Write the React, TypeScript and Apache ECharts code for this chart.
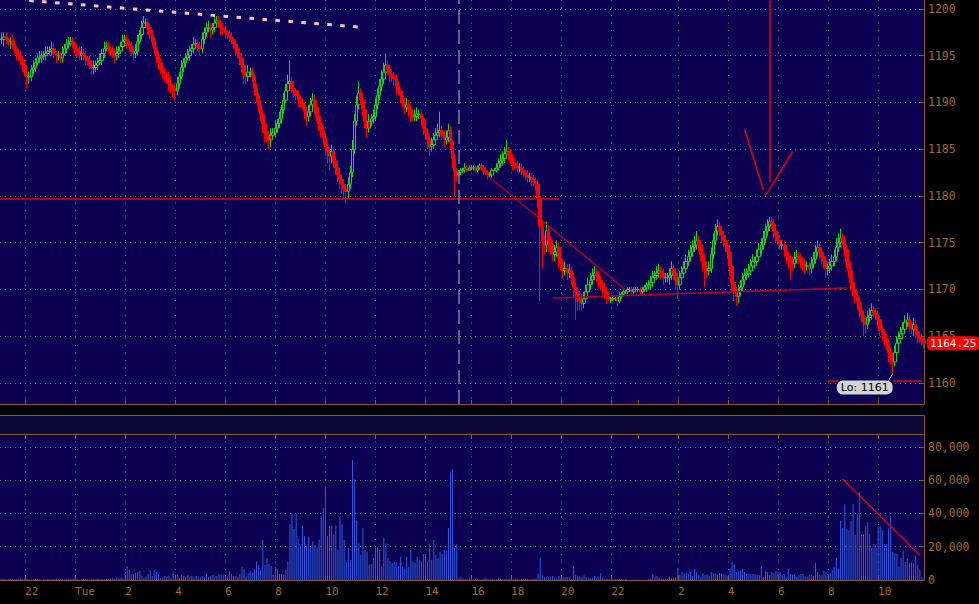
import React, { useEffect, useRef } from 'react';
import * as echarts from 'echarts';

// ---- Price data (5-minute bars), closes ----
const firstOpen = 1196.75;
const tickSize = 0.25;
const closes = [
  /*0*/ 1196.75, 1196.75, 1197.0, 1196.75, 1196.5, 1196.5, 1196.25, 1195.75, 1195.25, 1195.0,
  /*10*/ 1194.5, 1194.0, 1193.25, 1192.75, 1192.75, 1193.5, 1193.75, 1194.25, 1194.75, 1194.75,
  /*20*/ 1195.0, 1195.0, 1195.25, 1195.5, 1195.5, 1195.75, 1195.25, 1195.0, 1195.0, 1194.75,
  /*30*/ 1195.25, 1195.75, 1196.25, 1196.25, 1196.5, 1196.25, 1195.75, 1195.5, 1195.0, 1195.25,
  /*40*/ 1195.0, 1194.75, 1194.5, 1194.0, 1193.75, 1193.75, 1194.0, 1194.25, 1194.5, 1195.25,
  /*50*/ 1195.75, 1196.0, 1195.75, 1195.5, 1195.25, 1195.0, 1195.25, 1195.5, 1196.0, 1196.5,
  /*60*/ 1196.75, 1196.25, 1196.0, 1195.5, 1195.25, 1195.5, 1196.5, 1197.25, 1198.0, 1198.5,
  /*70*/ 1198.5, 1198.0, 1197.25, 1196.5, 1195.75, 1195.0, 1194.25, 1193.5, 1193.25, 1193.0,
  /*80*/ 1192.75, 1192.0, 1191.75, 1191.5, 1191.25, 1192.0, 1192.75, 1193.75, 1194.25, 1194.75,
  /*90*/ 1195.0, 1195.5, 1195.75, 1196.25, 1196.25, 1196.0, 1195.75, 1196.75, 1197.5, 1198.0,
  /*100*/ 1198.0, 1197.75, 1198.0, 1198.5, 1198.75, 1198.5, 1198.0, 1197.75, 1197.5, 1197.25,
  /*110*/ 1197.0, 1196.75, 1196.25, 1195.75, 1195.25, 1194.75, 1194.0, 1193.0, 1192.75, 1193.25,
  /*120*/ 1193.25, 1192.75, 1191.5, 1190.75, 1189.75, 1188.75, 1187.75, 1186.75, 1186.5, 1186.0,
  /*130*/ 1186.5, 1186.75, 1187.25, 1187.75, 1188.25, 1189.25, 1190.25, 1191.25, 1192.0, 1192.25,
  /*140*/ 1191.5, 1191.25, 1190.75, 1190.25, 1190.0, 1189.75, 1189.0, 1188.5, 1189.0, 1189.75,
  /*150*/ 1190.25, 1189.5, 1188.5, 1187.75, 1187.0, 1186.25, 1185.25, 1184.75, 1184.25, 1184.75,
  /*160*/ 1183.75, 1183.0, 1182.25, 1181.75, 1181.25, 1180.75, 1180.5, 1181.25, 1182.5, 1185.0,
  /*170*/ 1188.0, 1189.75, 1191.0, 1190.25, 1189.25, 1188.0, 1187.25, 1188.0, 1188.25, 1188.5,
  /*180*/ 1189.75, 1190.75, 1191.75, 1192.5, 1193.25, 1194.0, 1193.5, 1193.0, 1192.75, 1192.5,
  /*190*/ 1191.75, 1191.25, 1190.75, 1190.0, 1189.5, 1189.75, 1189.25, 1188.75, 1188.5, 1188.5,
  /*200*/ 1188.75, 1188.75, 1188.25, 1187.25, 1186.75, 1186.0, 1185.25, 1185.5, 1186.0, 1186.5,
  /*210*/ 1186.75, 1187.0, 1186.5, 1186.0, 1186.25, 1187.0, 1185.75, 1184.0, 1182.5, 1182.25,
  /*220*/ 1182.5, 1182.75, 1182.75, 1183.0, 1182.75, 1183.0, 1183.0, 1183.0, 1182.75, 1183.0,
  /*230*/ 1183.25, 1183.0, 1182.75, 1182.5, 1182.25, 1182.25, 1182.75, 1182.75, 1183.0, 1183.5,
  /*240*/ 1183.75, 1184.0, 1184.5, 1184.75, 1184.5, 1184.0, 1183.5, 1183.25, 1183.0, 1183.0,
  /*250*/ 1182.75, 1182.5, 1182.25, 1182.0, 1182.0, 1181.75, 1181.5, 1181.25, 1179.75, 1176.75,
  /*260*/ 1175.25, 1174.75, 1176.25, 1175.25, 1174.75, 1173.75, 1174.0, 1174.5, 1173.25, 1172.75,
  /*270*/ 1172.0, 1172.25, 1171.75, 1172.0, 1171.25, 1170.25, 1169.75, 1169.0, 1168.75, 1168.5,
  /*280*/ 1169.0, 1169.75, 1170.5, 1171.0, 1171.5, 1171.75, 1171.5, 1171.0, 1170.5, 1170.25,
  /*290*/ 1169.75, 1169.25, 1169.0, 1169.0, 1169.0, 1169.0, 1168.75, 1169.25, 1169.5, 1169.75,
  /*300*/ 1169.75, 1170.0, 1170.0, 1169.75, 1170.0, 1170.0, 1170.0, 1169.75, 1170.0, 1170.25,
  /*310*/ 1170.5, 1170.5, 1170.75, 1171.25, 1171.5, 1171.75, 1172.0, 1171.75, 1171.25, 1171.25,
  /*320*/ 1171.25, 1171.5, 1172.25, 1171.75, 1171.0, 1170.5, 1171.25, 1171.75, 1172.25, 1173.0,
  /*330*/ 1173.5, 1174.0, 1174.5, 1174.75, 1175.25, 1174.75, 1173.75, 1173.0, 1172.25, 1172.0,
  /*340*/ 1172.25, 1173.75, 1175.25, 1176.25, 1176.75, 1176.25, 1175.75, 1175.25, 1174.75, 1174.0,
  /*350*/ 1172.5, 1170.75, 1169.75, 1169.25, 1169.75, 1170.25, 1171.0, 1171.5, 1171.75, 1172.0,
  /*360*/ 1172.5, 1173.0, 1173.0, 1173.5, 1174.25, 1174.75, 1175.5, 1176.25, 1176.75, 1177.25,
  /*370*/ 1177.0, 1176.25, 1175.75, 1175.25, 1174.75, 1174.75, 1174.25, 1173.5, 1173.25, 1173.0,
  /*380*/ 1172.75, 1173.25, 1173.5, 1173.25, 1173.0, 1172.75, 1172.5, 1172.5, 1172.25, 1172.75,
  /*390*/ 1173.25, 1174.0, 1174.5, 1174.0, 1173.5, 1173.0, 1172.25, 1172.25, 1172.5, 1173.0,
  /*400*/ 1173.5, 1174.5, 1175.0, 1175.5, 1175.25, 1174.25, 1173.0, 1172.0, 1170.75, 1170.0,
  /*410*/ 1169.25, 1168.75, 1167.75, 1167.25, 1166.5, 1166.25, 1167.0, 1167.25, 1167.75, 1167.5,
  /*420*/ 1167.25, 1166.75, 1165.75, 1165.25, 1164.75, 1164.25, 1163.25, 1162.75, 1162.25, 1163.25,
  /*430*/ 1164.25, 1164.75, 1165.25, 1165.75, 1166.5, 1166.75, 1166.0, 1165.75, 1166.25, 1165.5,
  /*440*/ 1165.0, 1164.75, 1164.5, 1164.25,
];

// wick lengths beyond the candle body, in ticks of 0.25
const upperWickTicks = [
  /*0*/ 2, 3, 2, 2, 1, 2, 3, 2, 1, 2,
  /*10*/ 2, 1, 2, 3, 2, 2, 3, 2, 2, 3,
  /*20*/ 2, 2, 3, 2, 2, 3, 2, 1, 2, 2,
  /*30*/ 3, 2, 2, 3, 2, 2, 1, 2, 2, 3,
  /*40*/ 2, 2, 1, 2, 2, 3, 2, 2, 3, 2,
  /*50*/ 3, 2, 2, 1, 2, 2, 3, 2, 2, 3,
  /*60*/ 2, 2, 1, 2, 2, 3, 3, 2, 3, 3,
  /*70*/ 2, 2, 1, 2, 2, 1, 2, 2, 3, 2,
  /*80*/ 1, 2, 2, 1, 2, 3, 2, 3, 2, 2,
  /*90*/ 3, 2, 2, 3, 2, 2, 2, 3, 2, 2,
  /*100*/ 3, 2, 2, 3, 2, 2, 1, 2, 2, 1,
  /*110*/ 2, 2, 1, 2, 2, 1, 2, 2, 3, 3,
  /*120*/ 2, 2, 1, 2, 1, 2, 2, 2, 3, 2,
  /*130*/ 3, 2, 3, 2, 3, 2, 3, 3, 4, 9,
  /*140*/ 2, 2, 1, 2, 2, 2, 1, 2, 3, 3,
  /*150*/ 3, 2, 2, 1, 2, 2, 2, 2, 2, 3,
  /*160*/ 2, 2, 1, 2, 2, 1, 2, 3, 3, 4,
  /*170*/ 3, 4, 5, 2, 2, 2, 1, 3, 2, 3,
  /*180*/ 3, 3, 3, 4, 4, 5, 2, 2, 2, 2,
  /*190*/ 2, 2, 1, 2, 2, 3, 2, 2, 2, 3,
  /*200*/ 3, 2, 2, 1, 2, 2, 2, 3, 3, 3,
  /*210*/ 4, 8, 2, 2, 3, 3, 2, 1, 2, 2,
  /*220*/ 1, 1, 1, 2, 1, 1, 1, 1, 1, 1,
  /*230*/ 1, 1, 1, 0, 1, 1, 1, 1, 2, 2,
  /*240*/ 3, 3, 3, 5, 2, 2, 1, 2, 2, 2,
  /*250*/ 2, 2, 1, 2, 2, 2, 2, 2, 2, 2,
  /*260*/ 3, 2, 4, 2, 2, 2, 3, 3, 2, 2,
  /*270*/ 2, 3, 2, 3, 2, 2, 2, 2, 2, 3,
  /*280*/ 3, 3, 3, 3, 3, 3, 2, 2, 2, 2,
  /*290*/ 2, 2, 1, 1, 1, 1, 1, 2, 1, 1,
  /*300*/ 1, 1, 1, 1, 1, 1, 1, 1, 1, 1,
  /*310*/ 1, 2, 3, 3, 2, 3, 3, 2, 2, 2,
  /*320*/ 2, 3, 3, 2, 2, 2, 3, 3, 3, 3,
  /*330*/ 3, 3, 3, 4, 4, 2, 2, 2, 2, 2,
  /*340*/ 3, 3, 3, 3, 3, 2, 2, 2, 2, 2,
  /*350*/ 2, 2, 2, 2, 3, 3, 3, 3, 2, 3,
  /*360*/ 3, 3, 2, 3, 3, 3, 3, 3, 3, 2,
  /*370*/ 2, 2, 2, 2, 2, 2, 2, 2, 2, 2,
  /*380*/ 2, 3, 3, 2, 2, 2, 2, 2, 2, 3,
  /*390*/ 3, 3, 3, 2, 2, 2, 2, 2, 3, 3,
  /*400*/ 3, 4, 4, 4, 2, 2, 2, 2, 2, 2,
  /*410*/ 2, 2, 2, 2, 2, 2, 3, 3, 3, 2,
  /*420*/ 2, 2, 2, 2, 2, 2, 2, 2, 2, 3,
  /*430*/ 3, 3, 3, 3, 3, 3, 2, 2, 3, 2,
  /*440*/ 2, 2, 2, 1,
];
const lowerWickTicks = [
  /*0*/ 2, 2, 3, 2, 2, 3, 2, 2, 3, 2,
  /*10*/ 2, 3, 2, 5, 3, 2, 2, 2, 1, 2,
  /*20*/ 2, 2, 2, 1, 2, 2, 2, 3, 2, 2,
  /*30*/ 2, 1, 2, 2, 1, 2, 2, 3, 2, 2,
  /*40*/ 2, 3, 2, 2, 3, 3, 2, 2, 1, 2,
  /*50*/ 2, 1, 2, 2, 2, 3, 2, 2, 1, 2,
  /*60*/ 2, 2, 3, 2, 3, 2, 2, 1, 2, 2,
  /*70*/ 2, 3, 2, 2, 2, 3, 3, 2, 3, 3,
  /*80*/ 3, 3, 3, 4, 4, 2, 2, 1, 2, 2,
  /*90*/ 1, 2, 2, 2, 2, 2, 3, 2, 2, 2,
  /*100*/ 2, 3, 2, 2, 1, 2, 3, 2, 2, 2,
  /*110*/ 2, 2, 2, 3, 2, 3, 3, 4, 3, 2,
  /*120*/ 2, 2, 3, 3, 3, 3, 4, 4, 3, 4,
  /*130*/ 3, 2, 2, 2, 2, 2, 2, 1, 2, 2,
  /*140*/ 2, 3, 2, 3, 2, 2, 3, 4, 2, 2,
  /*150*/ 2, 3, 2, 3, 3, 3, 4, 5, 6, 3,
  /*160*/ 3, 3, 3, 4, 4, 4, 5, 3, 2, 2,
  /*170*/ 2, 2, 2, 2, 3, 3, 4, 2, 2, 2,
  /*180*/ 2, 2, 2, 2, 2, 2, 2, 3, 2, 3,
  /*190*/ 3, 2, 3, 2, 3, 2, 3, 3, 2, 2,
  /*200*/ 2, 2, 3, 3, 3, 4, 4, 2, 2, 2,
  /*210*/ 2, 2, 2, 3, 2, 2, 3, 4, 10, 3,
  /*220*/ 1, 1, 0, 1, 1, 0, 1, 1, 1, 1,
  /*230*/ 1, 1, 2, 1, 2, 1, 1, 0, 1, 1,
  /*240*/ 2, 2, 2, 2, 3, 2, 3, 2, 2, 2,
  /*250*/ 2, 2, 2, 2, 2, 3, 2, 3, 4, 32,
  /*260*/ 12, 4, 3, 5, 4, 3, 3, 2, 4, 3,
  /*270*/ 3, 2, 3, 2, 3, 4, 12, 5, 4, 3,
  /*280*/ 2, 2, 2, 2, 2, 2, 3, 3, 2, 3,
  /*290*/ 3, 3, 1, 2, 1, 1, 2, 1, 1, 1,
  /*300*/ 1, 1, 1, 1, 1, 1, 1, 1, 1, 1,
  /*310*/ 2, 2, 2, 2, 2, 2, 2, 3, 3, 2,
  /*320*/ 2, 3, 2, 3, 4, 6, 2, 2, 2, 2,
  /*330*/ 2, 2, 2, 2, 2, 3, 3, 4, 8, 3,
  /*340*/ 2, 2, 2, 2, 2, 2, 3, 3, 3, 3,
  /*350*/ 4, 4, 4, 4, 3, 2, 2, 2, 2, 2,
  /*360*/ 2, 2, 3, 2, 2, 2, 2, 2, 2, 2,
  /*370*/ 2, 3, 3, 2, 2, 2, 3, 3, 4, 8,
  /*380*/ 3, 2, 2, 2, 3, 3, 3, 2, 3, 2,
  /*390*/ 2, 2, 2, 3, 3, 3, 4, 3, 2, 2,
  /*400*/ 2, 2, 2, 2, 2, 3, 3, 3, 3, 3,
  /*410*/ 3, 4, 3, 3, 6, 4, 2, 2, 2, 2,
  /*420*/ 2, 3, 3, 3, 3, 3, 4, 3, 5, 2,
  /*430*/ 2, 2, 2, 2, 2, 2, 2, 2, 3, 3,
  /*440*/ 3, 2, 2, 2,
];

// volume per bar, in thousands of contracts
const volumeK = [
  /*0*/ 0.8, 0.6, 0.7, 0.5, 0.6, 0.8, 0.4, 0.5, 0.6, 0.7,
  /*10*/ 0.9, 0.5, 1.2, 0.6, 0.4, 0.3, 0.5, 0.6, 0.5, 0.4,
  /*20*/ 0.2, 0.6, 0.5, 0.7, 0.4, 0.5, 0.6, 0.8, 0.5, 0.4,
  /*30*/ 0.6, 0.5, 0.7, 0.6, 0.8, 0.9, 1.4, 0.6, 0.3, 0.5,
  /*40*/ 0.7, 0.4, 0.6, 0.5, 0.8, 0.6, 0.7, 0.9, 0.5, 0.6,
  /*50*/ 0.4, 0.8, 0.6, 0.9, 1.0, 0.8, 1.6, 1.2, 1.5, 1.0,
  /*60*/ 4.4, 8.4, 6.0, 3.6, 3.6, 4.4, 4.8, 5.6, 2.4, 1.2,
  /*70*/ 2.0, 3.6, 6.0, 2.4, 6.0, 4.8, 3.6, 1.2, 1.6, 2.4,
  /*80*/ 2.0, 2.4, 1.2, 4.8, 3.2, 3.2, 1.2, 2.8, 2.4, 1.6,
  /*90*/ 2.8, 2.0, 2.4, 2.0, 2.4, 1.6, 2.0, 2.4, 2.0, 4.0,
  /*100*/ 2.0, 2.4, 2.8, 1.6, 2.4, 3.6, 3.2, 2.8, 3.2, 2.4,
  /*110*/ 5.2, 3.6, 2.4, 2.4, 2.0, 3.6, 7.6, 6.4, 2.0, 4.0,
  /*120*/ 5.2, 4.4, 6.4, 11.2, 8.8, 6.0, 24.0, 9.2, 13.2, 9.6,
  /*130*/ 8.4, 3.2, 7.6, 6.4, 3.6, 3.6, 3.2, 6.0, 11.2, 33.6,
  /*140*/ 40.0, 30.8, 40.0, 24.8, 20.8, 32.8, 26.4, 20.8, 26.0, 20.0,
  /*150*/ 23.2, 20.8, 19.6, 24.4, 38.4, 43.2, 55.2, 26.4, 32.4, 32.8,
  /*160*/ 27.2, 32.8, 18.0, 38.0, 33.6, 24.0, 10.8, 19.2, 12.0, 72.0,
  /*170*/ 60.4, 35.6, 22.0, 15.2, 31.2, 18.0, 16.8, 9.2, 9.6, 13.2,
  /*180*/ 20.0, 19.6, 18.0, 8.0, 25.2, 22.0, 13.2, 11.6, 10.0, 10.8,
  /*190*/ 10.8, 8.4, 14.0, 8.0, 6.8, 14.0, 8.0, 18.0, 11.2, 10.4,
  /*200*/ 14.0, 12.0, 11.2, 15.6, 14.8, 11.2, 22.0, 12.0, 24.0, 15.2,
  /*210*/ 13.2, 16.8, 15.6, 18.0, 17.6, 31.2, 64.8, 66.8, 19.2, 21.6,
  /*220*/ 1.0, 2.0, 1.0, 0.6, 0.4, 0.8, 0.5, 0.3, 0.6, 0.9,
  /*230*/ 0.5, 0.4, 0.7, 1.2, 0.6, 0.5, 0.8, 0.4, 0.6, 1.0,
  /*240*/ 0.7, 0.5, 0.6, 0.9, 0.8, 0.5, 0.4, 0.7, 0.6, 0.5,
  /*250*/ 0.8, 0.6, 0.9, 0.7, 0.5, 0.6, 0.8, 0.9, 4.0, 13.2,
  /*260*/ 2.8, 2.0, 2.0, 2.0, 2.0, 2.4, 1.2, 1.2, 2.4, 1.6,
  /*270*/ 2.0, 1.6, 2.0, 1.6, 0.4, 8.4, 3.2, 2.0, 2.0, 2.0,
  /*280*/ 2.8, 1.6, 1.2, 1.2, 1.2, 2.4, 1.2, 2.0, 4.0, 1.2,
  /*290*/ 0.8, 0.8, 0.4, 0.6, 0.4, 0.8, 0.4, 0.6, 0.4, 0.3,
  /*300*/ 0.6, 0, 0, 0, 0, 0, 0, 0, 0, 0,
  /*310*/ 0, 0.8, 0.8, 3.6, 1.6, 2.4, 1.2, 0.8, 0.8, 0.8,
  /*320*/ 0.8, 2.0, 1.2, 1.2, 1.6, 7.2, 3.2, 4.8, 3.6, 4.4,
  /*330*/ 3.6, 4.8, 2.4, 6.8, 4.8, 2.8, 2.0, 4.0, 2.8, 3.6,
  /*340*/ 2.4, 4.8, 4.0, 4.0, 3.2, 4.0, 4.0, 3.6, 3.2, 2.4,
  /*350*/ 6.8, 10.8, 9.6, 4.8, 5.2, 5.6, 6.8, 4.8, 3.6, 4.0,
  /*360*/ 3.6, 3.6, 3.6, 3.2, 2.8, 8.4, 2.0, 5.2, 4.8, 2.8,
  /*370*/ 4.8, 4.4, 5.2, 4.8, 4.8, 2.8, 3.6, 2.0, 6.8, 3.6,
  /*380*/ 3.2, 3.2, 2.0, 2.8, 3.6, 3.6, 2.0, 1.6, 3.2, 2.8,
  /*390*/ 2.4, 10.4, 4.8, 3.2, 2.8, 5.6, 4.8, 3.6, 4.4, 6.0,
  /*400*/ 7.6, 13.2, 6.8, 35.6, 31.2, 45.6, 30.8, 29.6, 35.6, 45.6,
  /*410*/ 27.2, 39.6, 52.8, 27.2, 27.6, 32.4, 34.8, 27.6, 19.2, 21.6,
  /*420*/ 19.6, 32.4, 32.4, 30.0, 21.6, 21.6, 31.0, 38.4, 16.8, 16.0,
  /*430*/ 15.6, 8.0, 13.2, 17.6, 10.8, 12.8, 10.0, 10.4, 10.0, 14.4,
  /*440*/ 9.2, 6.0, 1.6, 1.0,
];

// ---- Time axis ticks (bar index -> label) ----
const timeTickIndex = [12, 36, 60, 84, 108, 132, 156, 180, 204, 226, 245, 269, 293, 325, 349, 373, 397, 421];
const timeTickLabels = ['22', 'Tue', '2', '4', '6', '8', '10', '12', '14', '16', '18', '20', '22', '2', '4', '6', '8', '10'];
const midnightIndex = 306;
const sessionBreakIndex = 220;

// ---- Axis ranges ----
const priceMin = 1157.75;
const priceMax = 1200.96;
const volumeMax = 87800;
const lastPrice = 1164.25;
const sessionLow = 1161;
const sessionLowIndex = 428;

// ---- Trader drawings, in data coordinates [bar index, price] ----
const pinkTrend = [[14, 1200.9], [172, 1198.07]];
const breakdownLevel = [[0, 1179.75], [268, 1179.75]];
const fallingTrend = [[230, 1182.9], [300, 1169.95]];
const risingSupport = [[265, 1169.1], [406, 1170.15]];
const arrowShaft = [[369, 1200.9], [369, 1181.5]];
const arrowLeft = [[357, 1187.13], [366, 1180.64]];
const arrowRight = [[380, 1184.74], [367, 1180.0]];
const lowLineLeft = [[397, 1160.2], [402, 1160.2]];
const lowLineRight = [[428, 1160.2], [442, 1160.2]];
const lowPointer = [[428, 1161], [426, 1160.25]];
const volumeTrend = [[404, 60750], [441, 15000]];

const PANEL = '#0c0052';
const MID_PANEL = '#0a0838';
const AXIS = '#8b5a1f';
const LABEL = '#a0682c';
const GRID_DOT = '#8e6428';
const UP = '#19d219';
const DOWN = '#ff0000';
const VOL = '#2d5be0';

export default function App() {
  const ref = useRef<HTMLDivElement>(null);

  useEffect(() => {
    if (!ref.current) return;
    const chart = echarts.init(ref.current, undefined, { renderer: 'svg' });

    const categories = closes.map((_, i) => String(i));
    const candleData = closes.map((c, i) => {
      const o = i === 0 ? firstOpen : closes[i - 1];
      const hi = Math.max(o, c) + (upperWickTicks[i] || 0) * tickSize;
      const lo = Math.min(o, c) - (lowerWickTicks[i] || 0) * tickSize;
      return [o, c, lo, hi];
    });
    const volumeData = volumeK.map((v) => Math.round((v || 0) * 1000));

    const tickSet = new Set(timeTickIndex);
    const labelOf = new Map<number, string>(timeTickIndex.map((idx, k) => [idx, timeTickLabels[k]]));

    const seg = (pts: number[][], style: any) => [
      { coord: pts[0], lineStyle: { type: 'solid', ...style } },
      { coord: pts[1] },
    ];
    const red = (w: number, color = '#e00010') => ({ color, width: w });

    const xCommon = {
      type: 'category' as const,
      data: categories,
      boundaryGap: false,
      axisLine: { show: true, lineStyle: { color: AXIS, width: 1 } },
    };

    chart.setOption({
      animation: false,
      backgroundColor: '#000000',
      grid: [
        { left: 0, top: 0, width: 924, height: 404, show: true, backgroundColor: PANEL, borderWidth: 0, outerBoundsMode: 'none' },
        { left: 0, top: 434, width: 924, height: 146, show: true, backgroundColor: PANEL, borderWidth: 0, outerBoundsMode: 'none' },
      ],
      graphic: [
        {
          type: 'rect',
          silent: true,
          z: 0,
          shape: { x: -2, y: 415.5, width: 926.5, height: 19 },
          style: { fill: MID_PANEL, stroke: AXIS, lineWidth: 1 },
        },
      ],
      xAxis: [
        {
          ...xCommon,
          gridIndex: 0,
          position: 'bottom',
          axisTick: { show: true, inside: true, length: 4, interval: (i: number) => tickSet.has(i) || i === midnightIndex, lineStyle: { color: AXIS } },
          axisLabel: { show: false },
          splitLine: { show: true, interval: (i: number) => tickSet.has(i), lineStyle: { color: GRID_DOT, type: [1, 6.5], width: 1 } },
        },
        {
          ...xCommon,
          gridIndex: 1,
          position: 'bottom',
          axisTick: { show: true, inside: true, length: 5, interval: (i: number) => tickSet.has(i), lineStyle: { color: AXIS } },
          axisLabel: {
            show: true,
            interval: (i: number) => tickSet.has(i),
            formatter: (v: string) => labelOf.get(Number(v)) ?? '',
            align: 'left',
            margin: 6,
            color: LABEL,
            fontFamily: 'DejaVu Sans Mono',
            fontSize: 11,
          },
          splitLine: { show: true, interval: (i: number) => tickSet.has(i), lineStyle: { color: GRID_DOT, type: [1, 6.5], width: 1 } },
        },
        {
          ...xCommon,
          gridIndex: 1,
          position: 'top',
          axisTick: { show: true, inside: true, length: 5, interval: (i: number) => tickSet.has(i) || i === midnightIndex, lineStyle: { color: AXIS } },
          axisLabel: { show: false },
          splitLine: { show: false },
        },
      ],
      yAxis: [
        {
          type: 'value',
          gridIndex: 0,
          position: 'right',
          min: priceMin,
          max: priceMax,
          splitNumber: 8,
          minInterval: 5,
          maxInterval: 5,
          axisLine: { show: true, lineStyle: { color: AXIS } },
          axisTick: { show: true, inside: true, length: 5, lineStyle: { color: AXIS } },
          axisLabel: {
            show: true,
            margin: 4,
            color: LABEL,
            fontFamily: 'DejaVu Sans Mono',
            fontSize: 11.5,
            showMinLabel: false,
            showMaxLabel: false,
            formatter: (v: number) => String(v),
          },
          splitLine: { show: true, showMinLine: false, showMaxLine: false, lineStyle: { color: GRID_DOT, type: [1, 4], width: 1 } },
        },
        {
          type: 'value',
          gridIndex: 1,
          position: 'right',
          min: 0,
          max: volumeMax,
          splitNumber: 4,
          minInterval: 20000,
          maxInterval: 20000,
          axisLine: { show: true, lineStyle: { color: AXIS } },
          axisTick: { show: true, inside: true, length: 5, lineStyle: { color: AXIS } },
          axisLabel: {
            show: true,
            margin: 4,
            color: LABEL,
            fontFamily: 'DejaVu Sans Mono',
            fontSize: 11.5,
            showMaxLabel: false,
            formatter: (v: number) => v.toLocaleString('en-US'),
          },
          splitLine: { show: true, showMinLine: false, showMaxLine: false, lineStyle: { color: GRID_DOT, type: [1, 4], width: 1 } },
        },
      ],
      series: [
        {
          type: 'candlestick',
          name: 'ES',
          xAxisIndex: 0,
          yAxisIndex: 0,
          data: candleData,
          barWidth: 3,
          itemStyle: {
            color: 'rgba(0,0,0,0)',
            color0: DOWN,
            borderColor: UP,
            borderColor0: DOWN,
            borderColorDoji: UP,
            borderWidth: 1,
          },
          markLine: {
            silent: true,
            symbol: ['none', 'none'],
            label: { show: false },
            emphasis: { disabled: true },
            data: [
              seg(pinkTrend, { color: '#ffc2c2', width: 3, type: [4.5, 8.5] }),
              seg(breakdownLevel, red(1.5, '#e00000')),
              seg(fallingTrend, red(1.2, '#c4001e')),
              seg(risingSupport, red(1.5, '#b80020')),
              seg(arrowShaft, red(1.5)),
              seg(arrowLeft, red(1.5)),
              seg(arrowRight, red(1.5)),
              seg(lowLineLeft, red(2, '#a8001a')),
              seg(lowLineRight, red(2, '#a8001a')),
              seg(lowPointer, { color: '#bdbdbd', width: 1 }),
              { xAxis: sessionBreakIndex, lineStyle: { color: '#7c7ca4', width: 1.5, type: [14, 6] } },
              {
                yAxis: lastPrice,
                lineStyle: { color: 'rgba(0,0,0,0)', width: 0, type: 'solid' },
                label: {
                  show: true,
                  position: 'end',
                  distance: 3,
                  formatter: lastPrice.toFixed(2),
                  color: '#ffffff',
                  backgroundColor: '#ff0000',
                  borderRadius: 4,
                  padding: [2, 3, 1, 3],
                  fontFamily: 'DejaVu Sans Mono',
                  fontSize: 11,
                  opacity: 1,
                },
              },
            ],
          },
          markPoint: {
            silent: true,
            data: [
              {
                coord: [sessionLowIndex, sessionLow],
                symbol: 'circle',
                symbolSize: 1,
                itemStyle: { color: 'rgba(0,0,0,0)' },
                label: {
                  show: true,
                  position: 'inside',
                  offset: [-28, 14],
                  formatter: 'Lo: ' + sessionLow,
                  color: '#000000',
                  backgroundColor: '#d4d4d4',
                  borderRadius: 6,
                  padding: [2, 4, 1, 4],
                  fontFamily: 'DejaVu Sans',
                  fontSize: 11,
                },
              },
            ],
          },
        },
        {
          type: 'bar',
          name: 'Volume',
          xAxisIndex: 1,
          yAxisIndex: 1,
          data: volumeData,
          barWidth: 1,
          itemStyle: { color: VOL },
          markLine: {
            silent: true,
            symbol: ['none', 'none'],
            label: { show: false },
            emphasis: { disabled: true },
            data: [seg(volumeTrend, { color: '#d4001c', width: 1.5 })],
          },
        },
      ],
    });

    return () => chart.dispose();
  }, []);

  return (
    <div
      ref={ref}
      style={{ position: 'fixed', left: 0, top: 0, width: 979, height: 604, background: '#000' }}
    />
  );
}
